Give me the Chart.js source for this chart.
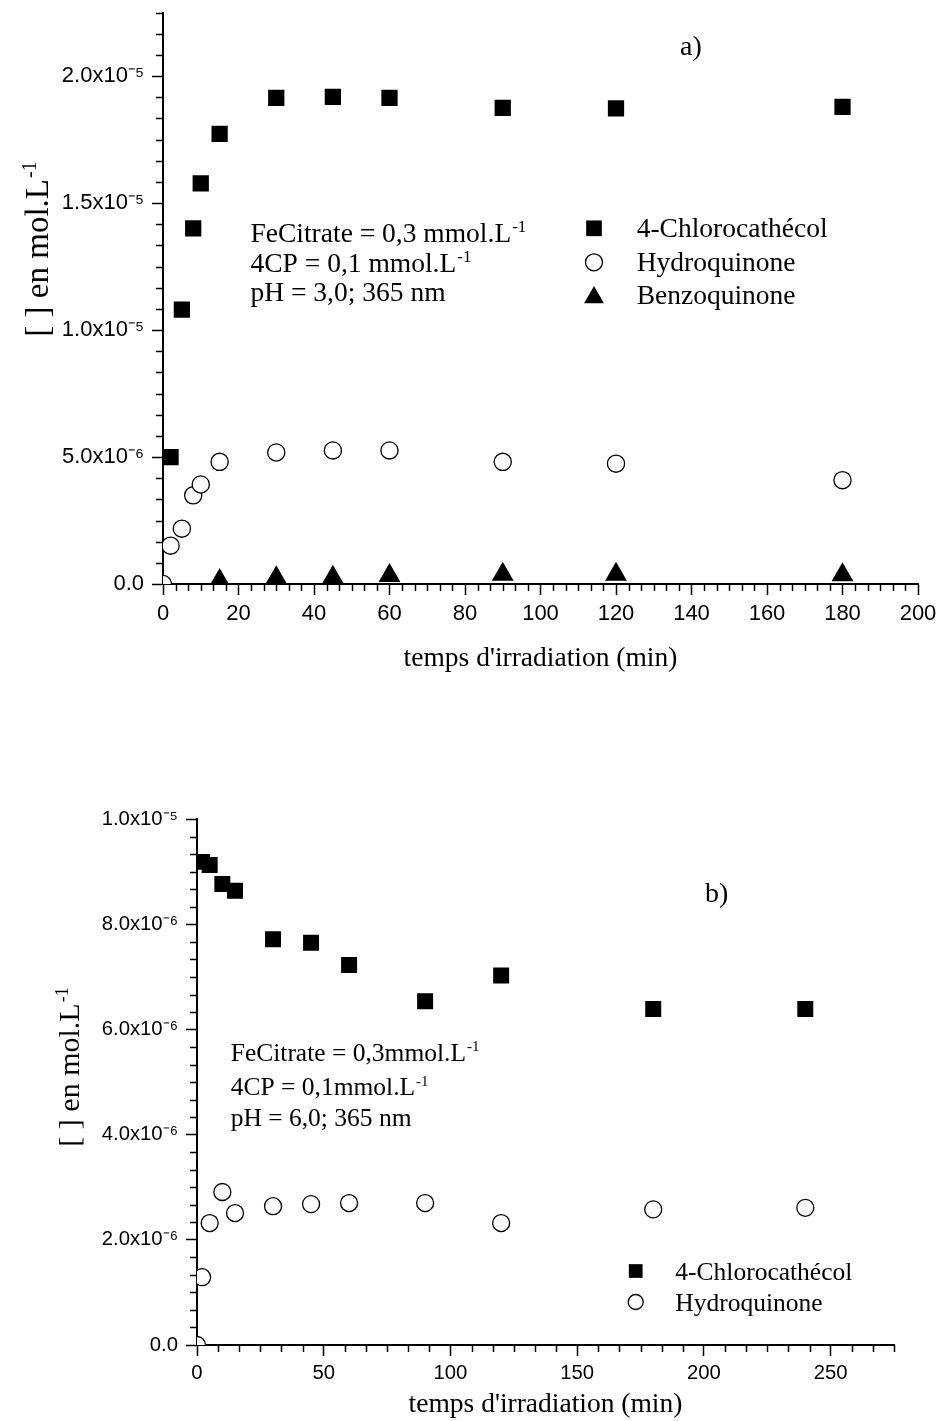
<!DOCTYPE html>
<html><head><meta charset="utf-8">
<script src="https://cdn.jsdelivr.net/npm/chart.js@4.4.1/dist/chart.umd.min.js"></script>
<style>
html,body{margin:0;padding:0;background:#fff;}
#wrap{position:relative;width:940px;height:1421px;overflow:hidden;background:#fff;}
canvas{position:absolute;left:0;}
</style></head><body>
<div id="wrap">
<canvas id="chartA" width="940" height="700" style="top:0px"></canvas>
<canvas id="chartB" width="940" height="701" style="top:720px"></canvas>
</div>
<script>
// ---------- DATA: panel a) pH 3.0 ----------
const timesChloroA = [2, 5, 8, 10, 15, 30, 45, 60, 90, 120, 180];
const chloroA = [5.0e-6, 1.08e-5, 1.40e-5, 1.578e-5, 1.772e-5, 1.914e-5, 1.918e-5, 1.914e-5, 1.875e-5, 1.873e-5, 1.879e-5];
const timesHydroA = [0, 2, 5, 8, 10, 15, 30, 45, 60, 90, 120, 180];
const hydroA = [0, 1.51e-6, 2.18e-6, 3.49e-6, 3.92e-6, 4.81e-6, 5.18e-6, 5.26e-6, 5.26e-6, 4.81e-6, 4.74e-6, 4.09e-6];
const timesBenzoA = [15, 30, 45, 60, 90, 120, 180];
const benzoA = [0.13e-6, 0.24e-6, 0.26e-6, 0.33e-6, 0.38e-6, 0.38e-6, 0.36e-6];
const yTickLabelsA = ['0.0', '5.0x10\u207B\u2076', '1.0x10\u207B\u2075', '1.5x10\u207B\u2075', '2.0x10\u207B\u2075'];
const xTickLabelsA = ['0', '20', '40', '60', '80', '100', '120', '140', '160', '180', '200'];

// ---------- DATA: panel b) pH 6.0 ----------
const timesChloroB = [2, 5, 10, 15, 30, 45, 60, 90, 120, 180, 240];
const chloroB = [9.19e-6, 9.13e-6, 8.77e-6, 8.64e-6, 7.72e-6, 7.65e-6, 7.23e-6, 6.54e-6, 7.03e-6, 6.39e-6, 6.39e-6];
const timesHydroB = [0, 2, 5, 10, 15, 30, 45, 60, 90, 120, 180, 240];
const hydroB = [0, 1.29e-6, 2.32e-6, 2.91e-6, 2.51e-6, 2.64e-6, 2.68e-6, 2.70e-6, 2.70e-6, 2.32e-6, 2.58e-6, 2.61e-6];
const yTickLabelsB = ['0.0', '2.0x10\u207B\u2076', '4.0x10\u207B\u2076', '6.0x10\u207B\u2076', '8.0x10\u207B\u2076', '1.0x10\u207B\u2075'];
const xTickLabelsB = ['0', '50', '100', '150', '200', '250'];

const seriesNames = ['4-Chlorocath\u00E9col', 'Hydroquinone', 'Benzoquinone'];
const xTitle = "temps d'irradiation (min)";
const yTitleMain = '[ ] en mol.L';
const supMinusOne = '-1';

// ---------- helpers ----------
const SERIF = "'Liberation Serif','Times New Roman',Times,serif";
const SANS = "'Liberation Sans',Arial,Helvetica,sans-serif";

function toPoints(xs, ys) { return xs.map((x, i) => ({x: x, y: ys[i]})); }
function isMajor(v, major) { const r = v / major; return Math.abs(r - Math.round(r)) < 1e-6; }

function drawParts(ctx, x, y, parts, size) {
  let cx = x;
  parts.forEach(p => {
    if (p.sup) {
      ctx.font = Math.round(size * 0.6) + 'px ' + SERIF;
      ctx.fillText(p.t, cx + 1, y - size * 0.36);
    } else {
      ctx.font = size + 'px ' + SERIF;
      ctx.fillText(p.t, cx, y);
    }
    cx += ctx.measureText(p.t).width + (p.sup ? 1 : 0);
  });
  return cx - x;
}
function measureParts(ctx, parts, size) {
  let w = 0;
  parts.forEach(p => {
    ctx.font = (p.sup ? Math.round(size * 0.6) : size) + 'px ' + SERIF;
    w += ctx.measureText(p.t).width + (p.sup ? 1 : 0);
  });
  return w;
}

function drawMarker(ctx, style, r, x, y, fill, stroke, bw) {
  ctx.save();
  ctx.fillStyle = fill; ctx.strokeStyle = stroke; ctx.lineWidth = bw;
  if (Chart.helpers && Chart.helpers.drawPoint) {
    Chart.helpers.drawPoint(ctx, {pointStyle: style, radius: r, rotation: 0, borderWidth: bw}, x, y);
  } else {
    ctx.beginPath();
    if (style === 'circle') ctx.arc(x, y, r, 0, Math.PI * 2);
    else if (style === 'rect') { const s = r * Math.SQRT1_2; ctx.rect(x - s, y - s, 2 * s, 2 * s); }
    else { ctx.moveTo(x, y - r); ctx.lineTo(x + r * 0.866, y + r / 2); ctx.lineTo(x - r * 0.866, y + r / 2); ctx.closePath(); }
    ctx.fill(); if (bw > 0) ctx.stroke();
  }
  ctx.restore();
}

const minorTicks = {
  id: 'minorTicks',
  afterDraw(chart) {
    const ctx = chart.ctx; const a = chart.chartArea;
    const o = chart.options.plugins.minorTicks;
    ctx.save(); ctx.strokeStyle = '#000'; ctx.lineWidth = 1.5;
    const xs = chart.scales.x, ys = chart.scales.y;
    xs.ticks.forEach(t => {
      if (isMajor(t.value, o.xMajor)) return;
      const px = Math.round(xs.getPixelForValue(t.value)) + 0.5;
      ctx.beginPath(); ctx.moveTo(px, a.bottom); ctx.lineTo(px, a.bottom + 7); ctx.stroke();
    });
    ys.ticks.forEach(t => {
      if (isMajor(t.value, o.yMajor)) return;
      const py = Math.round(ys.getPixelForValue(t.value)) + 0.5;
      ctx.beginPath(); ctx.moveTo(a.left, py); ctx.lineTo(a.left - 7, py); ctx.stroke();
    });
    ctx.restore();
  }
};

const textLayer = {
  id: 'textLayer',
  afterDraw(chart) {
    const o = chart.options.plugins.textLayer;
    const ctx = chart.ctx;
    ctx.save();
    ctx.fillStyle = '#000';
    ctx.textAlign = 'left';
    ctx.textBaseline = 'alphabetic';
    ctx.font = o.panelSize + 'px ' + SERIF;
    ctx.fillText(o.panel.text, o.panel.x, o.panel.y);
    o.notes.forEach((n, i) => {
      drawParts(ctx, o.notesX, o.notesY[i], n, o.size);
    });
    chart.data.datasets.forEach((ds, i) => {
      const L = o.legend[i];
      drawMarker(ctx, ds.pointStyle, L.r, L.mx, L.my, ds.pointBackgroundColor, '#000', ds.pointBorderWidth);
      ctx.fillStyle = '#000';
      ctx.font = o.size + 'px ' + SERIF;
      ctx.textAlign = 'left';
      ctx.fillText(ds.label, L.tx, L.ty);
    });
    const parts = [{t: yTitleMain}, {t: supMinusOne, sup: true}];
    ctx.translate(o.yTitle.x, o.yTitle.y);
    ctx.rotate(-Math.PI / 2);
    const w = measureParts(ctx, parts, o.yTitle.size);
    drawParts(ctx, -w / 2, 0, parts, o.yTitle.size);
    ctx.restore();
  }
};

function makeScales(cfg) {
  return {
    x: {
      type: 'linear', min: cfg.xMin, max: cfg.xMax,
      afterFit: s => { s.height = cfg.xHeight; s.paddingLeft = 0; s.paddingRight = 0; },
      border: {display: true, color: '#000', width: 2},
      grid: {display: true, drawOnChartArea: false, drawTicks: true, tickLength: 11, tickWidth: 1.5,
        tickColor: c => (c.tick && isMajor(c.tick.value, cfg.xMajor)) ? '#000' : 'rgba(0,0,0,0)'},
      ticks: {
        stepSize: cfg.xMajor / 6, autoSkip: false, maxRotation: 0, minRotation: 0,
        padding: cfg.xPad, color: '#000', font: {family: SANS, size: cfg.tickSize, lineHeight: 1.2},
        callback: v => isMajor(v, cfg.xMajor) ? (cfg.xLabels[Math.round(v / cfg.xMajor)] || '') : ''
      },
      title: {display: true, text: xTitle, color: '#000', font: {family: SERIF, size: 27.5, lineHeight: 1.2},
        padding: {top: 0, bottom: cfg.titlePad}}
    },
    y: {
      type: 'linear', min: cfg.yMin, max: cfg.yMax,
      afterFit: s => { s.width = cfg.yWidth; s.paddingTop = 0; s.paddingBottom = 0; },
      border: {display: true, color: '#000', width: 2},
      grid: {display: true, drawOnChartArea: false, drawTicks: true, tickLength: 11, tickWidth: 1.5,
        tickColor: c => (c.tick && isMajor(c.tick.value, cfg.yMajor)) ? '#000' : 'rgba(0,0,0,0)'},
      ticks: {
        stepSize: cfg.yMajor / 6, autoSkip: false, padding: 8, color: '#000',
        font: {family: SANS, size: cfg.tickSize, lineHeight: 1.2},
        callback: v => isMajor(v, cfg.yMajor) ? (cfg.yLabels[Math.round(v / cfg.yMajor)] || '') : ''
      }
    }
  };
}

const squareDs = (label, pts, r) => ({label, data: pts, pointStyle: 'rect', pointRadius: r, pointHoverRadius: r,
  pointBackgroundColor: '#000', pointBorderColor: '#000', pointBorderWidth: 0, showLine: false, clip: 0});
const circleDs = (label, pts, r) => ({label, data: pts, pointStyle: 'circle', pointRadius: r, pointHoverRadius: r,
  pointBackgroundColor: '#fff', pointBorderColor: '#000', pointBorderWidth: 1.3, showLine: false, clip: 0});
const triDs = (label, pts, r) => ({label, data: pts, pointStyle: 'triangle', pointRadius: r, pointHoverRadius: r,
  pointBackgroundColor: '#000', pointBorderColor: '#000', pointBorderWidth: 0, showLine: false, clip: 0});

const commonOpts = {responsive: false, animation: false, events: []};

// ---------- chart a ----------
new Chart(document.getElementById('chartA'), {
  type: 'scatter',
  data: {datasets: [
    squareDs(seriesNames[0], toPoints(timesChloroA, chloroA), 11.5),
    circleDs(seriesNames[1], toPoints(timesHydroA, hydroA), 8.6),
    triDs(seriesNames[2], toPoints(timesBenzoA, benzoA), 12.6)
  ]},
  options: Object.assign({}, commonOpts, {
    layout: {padding: {left: 0, right: 22, top: 12, bottom: 0}},
    scales: makeScales({xMin: 0, xMax: 200, xMajor: 20, xLabels: xTickLabelsA, xHeight: 116, xPad: 6, titlePad: 25,
      tickSize: 22, yMin: 0, yMax: 2.25e-5, yMajor: 5e-6, yLabels: yTickLabelsA, yWidth: 163}),
    plugins: {
      legend: {display: false}, tooltip: {enabled: false},
      minorTicks: {xMajor: 20, yMajor: 5e-6},
      textLayer: {
        size: 27.5, panelSize: 28,
        panel: {text: 'a)', x: 680, y: 55},
        notesX: 250.5, notesY: [241.7, 271.7, 301],
        notes: [
          [{t: 'FeCitrate = 0,3 mmol.L'}, {t: '-1', sup: true}],
          [{t: '4CP = 0,1 mmol.L'}, {t: '-1', sup: true}],
          [{t: 'pH = 3,0; 365 nm'}]
        ],
        legend: [
          {r: 11.1, mx: 594, my: 228.3, tx: 636.7, ty: 236.7},
          {r: 8.5, mx: 594, my: 262.3, tx: 636.7, ty: 270.7},
          {r: 11.5, mx: 594, my: 297.5, tx: 636.7, ty: 304}
        ],
        yTitle: {x: 48, y: 249, size: 33}
      }
    }
  }),
  plugins: [minorTicks, textLayer]
});

// ---------- chart b ----------
new Chart(document.getElementById('chartB'), {
  type: 'scatter',
  data: {datasets: [
    squareDs(seriesNames[0], toPoints(timesChloroB, chloroB), 11.3),
    circleDs(seriesNames[1], toPoints(timesHydroB, hydroB), 8.5)
  ]},
  options: Object.assign({}, commonOpts, {
    layout: {padding: {left: 0, right: 46, top: 99.3, bottom: 0}},
    scales: makeScales({xMin: 0, xMax: 275, xMajor: 50, xLabels: xTickLabelsB, xHeight: 76, xPad: 5, titlePad: 0,
      tickSize: 20.3, yMin: 0, yMax: 1.0e-5, yMajor: 2e-6, yLabels: yTickLabelsB, yWidth: 197}),
    plugins: {
      legend: {display: false}, tooltip: {enabled: false},
      minorTicks: {xMajor: 50, yMajor: 2e-6},
      textLayer: {
        size: 25.5, panelSize: 28,
        panel: {text: 'b)', x: 705, y: 181.7},
        notesX: 230.7, notesY: [340.5, 375, 406],
        notes: [
          [{t: 'FeCitrate = 0,3mmol.L'}, {t: '-1', sup: true}],
          [{t: '4CP = 0,1mmol.L'}, {t: '-1', sup: true}],
          [{t: 'pH = 6,0; 365 nm'}]
        ],
        legend: [
          {r: 9.7, mx: 635.7, my: 551, tx: 675.3, ty: 560},
          {r: 7.5, mx: 635.7, my: 582, tx: 675.3, ty: 590.7}
        ],
        yTitle: {x: 79, y: 347, size: 30}
      }
    }
  }),
  plugins: [minorTicks, textLayer]
});
</script>
</body></html>
